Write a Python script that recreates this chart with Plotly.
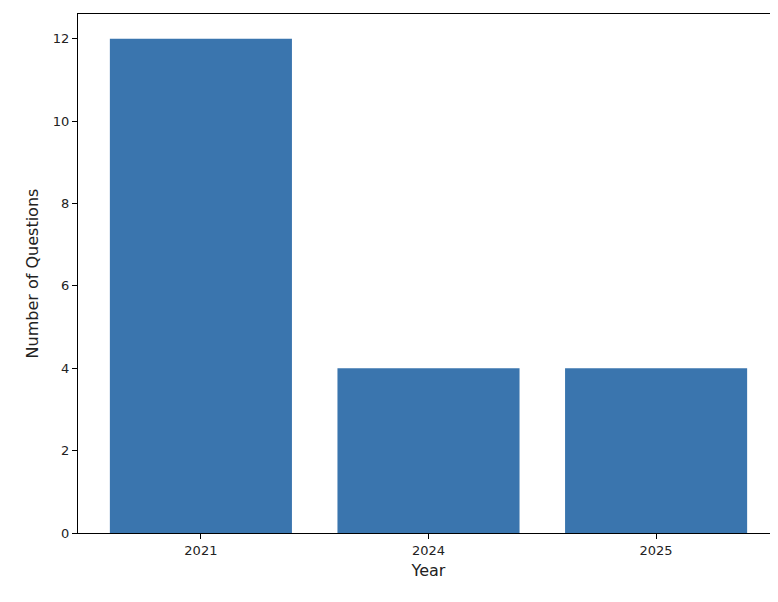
import plotly.graph_objects as go

years = ["2021", "2024", "2025"]
counts = [12, 4, 4]

fig = go.Figure(go.Bar(x=[0, 1, 2], y=counts, width=0.8, marker=dict(color="#3a75ae", line=dict(width=0))))
fig.update_layout(
    width=778, height=602,
    margin=dict(l=70, r=7, t=6, b=77),
    paper_bgcolor="white", plot_bgcolor="white",
    font=dict(family="DejaVu Sans", size=13, color="#222"),
    showlegend=False,
)
fig.update_xaxes(range=[-0.54, 2.54], tickvals=[0, 1, 2], ticktext=years,
                 showline=True, mirror=True, linecolor="black", linewidth=1,
                 ticks="outside", ticklen=5, tickcolor="black", showgrid=False, zeroline=False,
                 title=dict(text="Year", standoff=8))
fig.update_yaxes(range=[0, 12.6], tickvals=[0, 2, 4, 6, 8, 10, 12],
                 showline=True, mirror=True, linecolor="black", linewidth=1,
                 ticks="outside", ticklen=5, tickcolor="black", showgrid=False, zeroline=False,
                 title=dict(text="Number of Questions", standoff=10))
fig.add_shape(type="line", xref="paper", yref="paper", x0=-0.1, x1=1.01, y0=-0.143, y1=-0.143,
              line=dict(color="black", width=2))
fig.write_html("out.html")
